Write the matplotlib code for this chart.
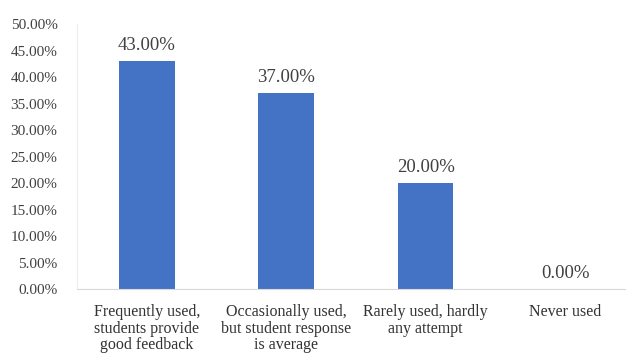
import matplotlib.pyplot as plt
from matplotlib.ticker import FuncFormatter

categories = ["Frequently used,\nstudents provide\ngood feedback",
              "Occasionally used,\nbut student response\nis average",
              "Rarely used, hardly\nany attempt",
              "Never used"]
values = [43.0, 37.0, 20.0, 0.0]
y_ticks = [0, 5, 10, 15, 20, 25, 30, 35, 40, 45, 50]

plt.rcParams['font.family'] = ['Liberation Serif', 'DejaVu Serif']

fig = plt.figure(figsize=(6.26, 3.53), dpi=100)
# axes runs a little past the right edge, as in the cropped original
ax = fig.add_axes([0.123, 0.181, 0.891, 0.751])

x = range(len(categories))
bars = ax.bar(x, values, width=0.40, color="#4472C4", zorder=2)

for xi, v in zip(x, values):
    ax.annotate(f"{v:.2f}%", (xi, v), xytext=(0, 5), textcoords="offset points",
                ha="center", va="bottom", fontsize=13.5, color="#404040")

ax.set_ylim(0, 50)
ax.set_yticks(y_ticks)
ax.yaxis.set_major_formatter(FuncFormatter(lambda v, p: f"{v:.2f}%"))
ax.set_xlim(-0.5, 3.5)
ax.set_xticks(list(x))
ax.set_xticklabels(categories, fontsize=11.5, color="#333333", linespacing=1.04)

ax.tick_params(axis="y", length=0, labelsize=11, labelcolor="#404040", pad=14)
ax.tick_params(axis="x", length=0, pad=11)

for s in ["top", "right"]:
    ax.spines[s].set_visible(False)
ax.spines["left"].set_color("#ececec")
ax.spines["bottom"].set_color("#d9d9d9")

fig.savefig("out.png", dpi=100)
